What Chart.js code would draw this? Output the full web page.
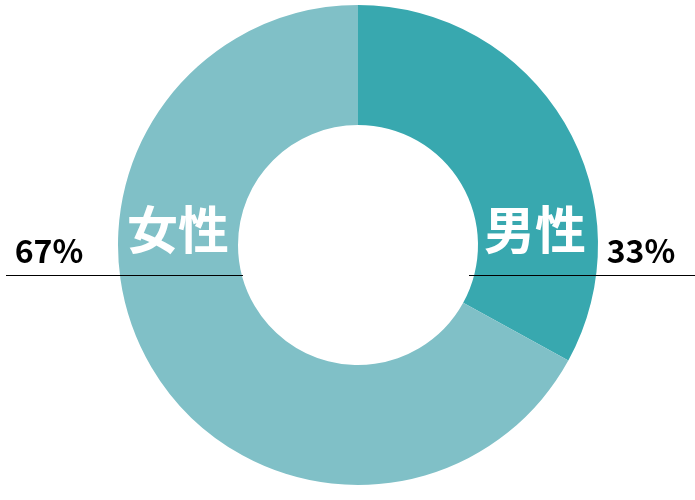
<!DOCTYPE html>
<html><head><meta charset="utf-8">
<script src="https://cdn.jsdelivr.net/npm/chart.js@4.4.1/dist/chart.umd.min.js"></script>
<style>html,body{margin:0;padding:0;background:#fff}#wrap{width:695px;height:500px}</style>
</head><body><div id="wrap"><canvas id="c"></canvas></div>
<script>
const categories = ['男性', '女性'];
const values = [33, 67];
const percentLabels = ['33%', '67%'];
const colors = ['#38a8af', '#80c0c7'];

const labelPlugin = {
  id: 'sideLabels',
  afterDatasetsDraw(chart) {
    const ctx = chart.ctx;
    const arc = chart.getDatasetMeta(0).data[0];
    const cx = arc.x, cy = arc.y, R = arc.outerRadius, r = arc.innerRadius;
    const W = chart.width;
    ctx.save();
    ctx.strokeStyle = '#000';
    ctx.lineWidth = 1;
    ctx.beginPath();
    ctx.moveTo(cx + r - 9, cy + 30.5); ctx.lineTo(W, cy + 30.5);
    ctx.moveTo(6, cy + 30.5); ctx.lineTo(cx - r + 5, cy + 30.5);
    ctx.stroke();
    ctx.fillStyle = '#fff';
    ctx.font = 'bold 51px "Noto Sans CJK JP"';
    ctx.textAlign = 'center';
    ctx.textBaseline = 'middle';
    ctx.fillText(categories[0], cx + (R + r) / 2 - 3, cy - 15);
    ctx.fillText(categories[1], cx - (R + r) / 2 + 0, cy - 15);
    ctx.fillStyle = '#000';
    ctx.font = 'bold 32px "Noto Sans CJK JP"';
    ctx.textBaseline = 'alphabetic';
    ctx.fillText(percentLabels[0], cx + 283, cy + 18);
    ctx.fillText(percentLabels[1], cx - 309, cy + 18);
    ctx.restore();
  }
};

new Chart(document.getElementById('c'), {
  type: 'doughnut',
  data: {
    labels: categories,
    datasets: [{ data: values, backgroundColor: colors, borderWidth: 0, hoverOffset: 0 }]
  },
  options: {
    responsive: true,
    maintainAspectRatio: false,
    animation: false,
    cutout: '50%',
    layout: { padding: { top: 5, bottom: 15, left: 21, right: 0 } },
    plugins: { legend: { display: false }, tooltip: { enabled: false } }
  },
  plugins: [labelPlugin]
});
</script></body></html>
